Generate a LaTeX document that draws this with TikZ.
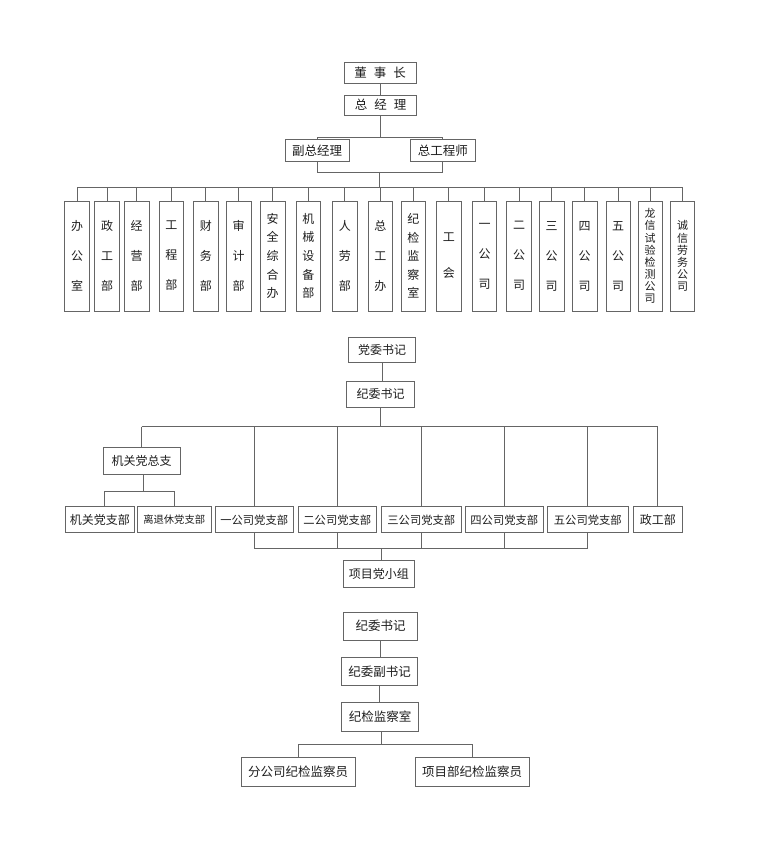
\documentclass[tikz,border=0pt]{standalone}
\usepackage{fontspec}
\newfontfamily\cjk{Noto Sans CJK SC}
\definecolor{lc}{HTML}{656565}
\definecolor{tc}{HTML}{1E1E1E}
\begin{document}
\begin{tikzpicture}[x=1pt,y=-1pt,
  box/.style={draw=lc, line width=0.8pt, inner sep=0pt, text=tc, font=\cjk\fontsize{12}{14}\selectfont},
  vb/.style={box, minimum width=24.5pt, minimum height=110pt, align=center, font=\cjk\fontsize{12}{#1}\selectfont},
  vbs/.style={box, minimum width=24.5pt, minimum height=110pt, align=center, font=\cjk\fontsize{11}{#1}\selectfont},
  ln/.style={draw=lc, line width=0.8pt}]
\useasboundingbox[fill=white] (0,0) rectangle (770,853);

% ---------- top section ----------
\node[box, minimum width=72pt, minimum height=21pt, font=\cjk\fontsize{12.5}{14}\selectfont] (dsz) at (380,72.5) {董\hspace{7pt}事\hspace{7pt}长};
\node[box, minimum width=71.5pt, minimum height=20pt, font=\cjk\fontsize{12.5}{14}\selectfont] (zjl) at (380.5,105) {总\hspace{7pt}经\hspace{7pt}理};
\node[box, minimum width=64pt, minimum height=22pt, font=\cjk\fontsize{12.5}{14}\selectfont] (fzjl) at (317,150.5) {副总经理};
\node[box, minimum width=64.3pt, minimum height=22pt, font=\cjk\fontsize{12.5}{14}\selectfont] (zgcs) at (442.8,150.5) {总工程师};

\node[vb=30] (v1) at (77,256) {办\\公\\室};
\node[vb=30] (v2) at (107,256) {政\\工\\部};
\node[vb=30] (v3) at (136.7,256) {经\\营\\部};
\node[vb=30] (v4) at (171.3,256) {工\\程\\部};
\node[vb=30] (v5) at (205.8,256) {财\\务\\部};
\node[vb=30] (v6) at (238.7,256) {审\\计\\部};
\node[vb=18.6] (v7) at (272.7,256) {安\\全\\综\\合\\办};
\node[vb=18.6] (v8) at (308.3,256) {机\\械\\设\\备\\部};
\node[vb=30] (v9) at (344.8,256) {人\\劳\\部};
\node[vb=30] (v10) at (380.3,256) {总\\工\\办};
\node[vb=18.6] (v11) at (413.3,256) {纪\\检\\监\\察\\室};
\node[vb=36] (v12) at (448.8,256) {工\\会};
\node[vb=30] (v13) at (484.5,256) {一\\公\\司};
\node[vb=30] (v14) at (519,256) {二\\公\\司};
\node[vb=30] (v15) at (551.7,256) {三\\公\\司};
\node[vb=30] (v16) at (584.7,256) {四\\公\\司};
\node[vb=30] (v17) at (618.2,256) {五\\公\\司};
\node[vbs=12.1] (v18) at (650.2,256) {龙\\信\\试\\验\\检\\测\\公\\司};
\node[vbs=12.1] (v19) at (682.5,256) {诚\\信\\劳\\务\\公\\司};

\draw[ln] (dsz.south) -- (dsz.south |- zjl.north);
\draw[ln] (zjl.south) -- ++(0,22) coordinate (t1);
\draw[ln] (fzjl.north) -- (fzjl.north |- t1) -- (zgcs.north |- t1) -- (zgcs.north);
\draw[ln] (fzjl.south) -- ++(0,10.5) coordinate (t2) -- (zgcs.south |- t2) -- (zgcs.south);
\coordinate (m1) at (379,172);
\coordinate (bus1) at (379,187);
\draw[ln] (m1) -- (bus1);
\draw[ln] (v1.north |- bus1) -- (v19.north |- bus1);
\foreach \i in {1,...,19} \draw[ln] (v\i.north |- bus1) -- (v\i.north);

% ---------- middle section ----------
\node[box, minimum width=67.7pt, minimum height=25.4pt] (dwsj) at (382,350) {党委书记};
\node[box, minimum width=67.7pt, minimum height=26pt] (jwsj) at (380.5,394) {纪委书记};
\node[box, minimum width=76.7pt, minimum height=26.3pt] (jgdzz) at (141.7,460.8) {机关党总支};
\node[box, minimum width=68.3pt, minimum height=26pt] (jgdzb) at (99.8,519.7) {机关党支部};
\node[box, minimum width=73.7pt, minimum height=26pt, font=\cjk\fontsize{10.3}{12}\selectfont] (ltx) at (174.2,519.7) {离退休党支部};
\node[box, minimum width=78.3pt, minimum height=26pt, font=\cjk\fontsize{11.3}{12}\selectfont] (y1) at (254.2,519.7) {一公司党支部};
\node[box, minimum width=77.3pt, minimum height=26pt, font=\cjk\fontsize{11.3}{12}\selectfont] (y2) at (337.3,519.7) {二公司党支部};
\node[box, minimum width=79.3pt, minimum height=26pt, font=\cjk\fontsize{11.3}{12}\selectfont] (y3) at (421.3,519.7) {三公司党支部};
\node[box, minimum width=78pt, minimum height=26pt, font=\cjk\fontsize{11.3}{12}\selectfont] (y4) at (504.3,519.7) {四公司党支部};
\node[box, minimum width=81pt, minimum height=26pt, font=\cjk\fontsize{11.3}{12}\selectfont] (y5) at (587.8,519.7) {五公司党支部};
\node[box, minimum width=49pt, minimum height=26pt] (zgb) at (657.8,519.7) {政工部};
\node[box, minimum width=71pt, minimum height=26.3pt] (xmd) at (378.8,573.8) {项目党小组};

\draw[ln] (dwsj.south) -- (dwsj.south |- jwsj.north);
\coordinate (bus2) at (381,426.7);
\draw[ln] (jwsj.south) -- (jwsj.south |- bus2);
\draw[ln] (jgdzz.north |- bus2) -- (zgb.north |- bus2);
\draw[ln] (jgdzz.north |- bus2) -- (jgdzz.north);
\foreach \n in {y1,y2,y3,y4,y5,zgb} \draw[ln] (\n.north |- bus2) -- (\n.north);
\coordinate (m2) at (143.3,491.7);
\draw[ln] (jgdzz.south -| m2) -- (m2);
\draw[ln] ([xshift=4.2pt]jgdzb.north) -- ([xshift=4.2pt]jgdzb.north |- m2) -- (ltx.north |- m2) -- (ltx.north);
\coordinate (bus3) at (381,548.3);
\draw[ln] (y1.south |- bus3) -- (y5.south |- bus3);
\foreach \n in {y1,y2,y3,y4,y5} \draw[ln] (\n.south) -- (\n.south |- bus3);
\draw[ln] (bus3) -- (bus3 |- xmd.north);

% ---------- bottom section ----------
\node[box, minimum width=74.4pt, minimum height=27.7pt, font=\cjk\fontsize{12.5}{14}\selectfont] (jw2) at (380.5,626.2) {纪委书记};
\node[box, minimum width=76.4pt, minimum height=28.4pt, font=\cjk\fontsize{12.5}{14}\selectfont] (jwf) at (379.5,671.5) {纪委副书记};
\node[box, minimum width=77.4pt, minimum height=28.3pt, font=\cjk\fontsize{12.5}{14}\selectfont] (jjs) at (380,716.8) {纪检监察室};
\node[box, minimum width=113.7pt, minimum height=29pt, font=\cjk\fontsize{12.5}{14}\selectfont] (fgs) at (298.2,772.2) {分公司纪检监察员};
\node[box, minimum width=114pt, minimum height=29pt, font=\cjk\fontsize{12.5}{14}\selectfont] (xmb) at (472,772.2) {项目部纪检监察员};

\draw[ln] (jw2.south) -- (jw2.south |- jwf.north);
\draw[ln] (jwf.south) -- (jwf.south |- jjs.north);
\coordinate (bus4) at (381,744);
\draw[ln] (jjs.south -| bus4) -- (bus4);
\draw[ln] (fgs.north |- bus4) -- (xmb.north |- bus4);
\draw[ln] (fgs.north |- bus4) -- (fgs.north);
\draw[ln] (xmb.north |- bus4) -- (xmb.north);
\end{tikzpicture}
\end{document}
